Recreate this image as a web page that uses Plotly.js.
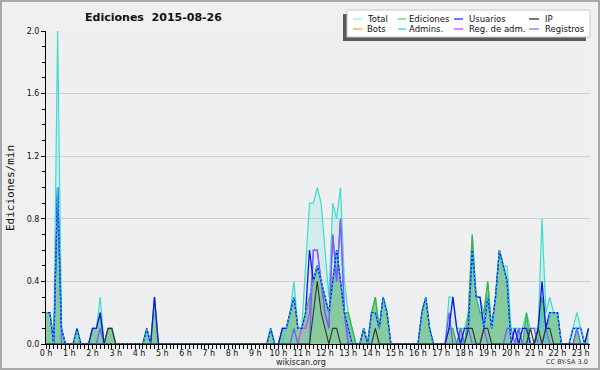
<!DOCTYPE html>
<html>
<head>
<meta charset="utf-8">
<script src="https://cdn.plot.ly/plotly-3.0.1.min.js"></script>
<style>
html,body{margin:0;padding:0;background:#f0f0f0;}
#chart{width:600px;height:370px;}
</style>
</head>
<body>
<div id="chart"></div>
<script>
// 10-minute buckets from 00:00 to 23:20 (edits per minute)
const STEP_MIN = 10;
const hourLabels = ['0 h','1 h','2 h','3 h','4 h','5 h','6 h','7 h','8 h','9 h','10 h','11 h',
  '12 h','13 h','14 h','15 h','16 h','17 h','18 h','19 h','20 h','21 h','22 h','23 h'];

const total = [
  0.2,0.2,0,2.0,0.1,0,
  0,0,0.1,0,0,0,
  0.1,0.1,0.3,0,0.1,0.1,
  0,0,0,0,0,0,
  0,0,0.1,0,0.3,0,
  0,0,0,0,0,0,
  0,0,0,0,0,0,
  0,0,0,0,0,0,
  0,0,0,0,0,0,
  0,0,0,0,0.1,0,
  0,0.1,0.1,0.2,0.4,0.1,
  0.1,0.5,0.9,0.9,1.0,0.9,
  0.6,0.3,0.9,0.8,1.0,0.4,
  0.2,0.1,0,0,0.1,0,
  0.2,0.3,0.1,0.3,0.2,0,
  0,0,0,0,0,0,
  0,0.2,0.3,0.1,0,0,
  0,0,0.3,0.3,0.1,0.1,
  0.1,0.2,0.7,0.3,0.3,0.2,
  0.4,0.1,0.3,0.6,0.5,0.5,
  0.1,0.1,0.1,0.1,0.2,0.1,
  0.1,0.1,0.8,0.2,0.3,0.2,
  0.2,0,0,0,0.1,0.2,
  0.1,0,0.1
];
const ediciones = [
  0.2,0.2,0,1.0,0.1,0,
  0,0,0.1,0,0,0,
  0.1,0.1,0.2,0,0.1,0.1,
  0,0,0,0,0,0,
  0,0,0.1,0,0.3,0,
  0,0,0,0,0,0,
  0,0,0,0,0,0,
  0,0,0,0,0,0,
  0,0,0,0,0,0,
  0,0,0,0,0.1,0,
  0,0.1,0.1,0.2,0.3,0.1,
  0.1,0.2,0.3,0.4,0.5,0.4,
  0.3,0.2,0.4,0.6,0.4,0.2,
  0.2,0.1,0,0,0.1,0,
  0.2,0.3,0.1,0.3,0.2,0,
  0,0,0,0,0,0,
  0,0.2,0.3,0.1,0,0,
  0,0,0.1,0.1,0,0.1,
  0,0.2,0.7,0.3,0.2,0.2,
  0.4,0.1,0.3,0.6,0.5,0.4,
  0,0,0.1,0,0.2,0,
  0,0.1,0.3,0.1,0.2,0.2,
  0.2,0,0,0,0,0.1,
  0,0,0.1
];
const usuarios = [
  0.2,0.2,0,1.0,0.1,0,
  0,0,0.1,0,0,0,
  0.1,0.1,0.2,0,0,0,
  0,0,0,0,0,0,
  0,0,0.1,0,0.3,0,
  0,0,0,0,0,0,
  0,0,0,0,0,0,
  0,0,0,0,0,0,
  0,0,0,0,0,0,
  0,0,0,0,0.1,0,
  0,0.1,0.1,0.2,0.3,0.1,
  0.1,0.2,0.6,0.4,0.5,0.4,
  0.3,0.2,0.4,0.6,0.4,0.2,
  0.1,0,0,0,0.1,0,
  0.2,0.2,0.1,0.3,0.2,0,
  0,0,0,0,0,0,
  0,0.2,0.3,0.1,0,0,
  0,0,0.1,0.3,0.1,0,
  0.1,0.1,0.6,0.3,0.3,0.1,
  0.3,0.1,0.3,0.6,0.5,0.4,
  0,0.1,0,0.1,0.1,0,
  0,0.1,0.4,0.1,0.2,0.2,
  0.2,0,0,0,0.1,0.1,
  0.1,0,0.1
];
const ip = [
  0,0,0,0,0,0,
  0,0,0,0,0,0,
  0,0,0,0,0.1,0.1,
  0,0,0,0,0,0,
  0,0,0,0,0,0,
  0,0,0,0,0,0,
  0,0,0,0,0,0,
  0,0,0,0,0,0,
  0,0,0,0,0,0,
  0,0,0,0,0,0,
  0,0,0,0,0,0,
  0,0,0,0.2,0.4,0.2,
  0.1,0,0.1,0.1,0,0,
  0,0,0,0,0,0,
  0,0.1,0,0,0,0,
  0,0,0,0,0,0,
  0,0,0,0,0,0,
  0,0,0,0,0,0,
  0,0.1,0.1,0,0,0.1,
  0.1,0,0,0,0,0,
  0,0,0,0,0,0.1,
  0,0.1,0,0.1,0.1,0,
  0,0,0,0,0,0,
  0,0,0
];
const bots = [
  0,0,0,0,0,0, 0,0,0,0,0,0, 0,0,0,0,0,0, 0,0,0,0,0,0,
  0,0,0,0,0,0, 0,0,0,0,0,0, 0,0,0,0,0,0, 0,0,0,0,0,0,
  0,0,0,0,0,0, 0,0,0,0,0,0, 0,0,0,0,0,0, 0,0,0,0,0,0,
  0,0,0,0,0,0, 0,0,0,0,0,0, 0,0,0,0,0,0, 0,0,0,0,0,0,
  0,0,0,0,0,0, 0,0,0,0,0,0, 0,0,0,0,0,0, 0,0,0,0,0,0,
  0,0,0,0,0,0, 0,0,0,0,0,0, 0,0,0,0,0,0, 0,0,0
];
const admins = [
  0.2,0.2,0,1.0,0.1,0,
  0,0,0.1,0,0,0,
  0,0,0,0,0,0,
  0,0,0,0,0,0,
  0,0,0.1,0,0,0,
  0,0,0,0,0,0,
  0,0,0,0,0,0,
  0,0,0,0,0,0,
  0,0,0,0,0,0,
  0,0,0,0,0.1,0,
  0,0,0.1,0.2,0.3,0.1,
  0.1,0.2,0.3,0.4,0.5,0.4,
  0.3,0.2,0.4,0.6,0.4,0.2,
  0.1,0,0,0,0.1,0,
  0.2,0.2,0.1,0.3,0.2,0,
  0,0,0,0,0,0,
  0,0.2,0.3,0.1,0,0,
  0,0,0,0,0,0,
  0,0.1,0.6,0.3,0.2,0.1,
  0.3,0.1,0.3,0.6,0.5,0.4,
  0,0,0,0,0,0,
  0,0,0.2,0,0.2,0.2,
  0.2,0,0,0,0.1,0.1,
  0.1,0,0
];
const regAdm = [
  0,0,0,0,0,0,
  0,0,0,0,0,0,
  0,0,0,0,0,0,
  0,0,0,0,0,0,
  0,0,0,0,0,0,
  0,0,0,0,0,0,
  0,0,0,0,0,0,
  0,0,0,0,0,0,
  0,0,0,0,0,0,
  0,0,0,0,0,0,
  0,0,0,0,0,0,
  0.1,0.1,0.2,0.6,0.6,0.4,
  0.2,0.1,0.7,0.4,0.8,0.2,
  0,0,0,0,0,0,
  0,0,0,0,0,0,
  0,0,0,0,0,0,
  0,0,0,0,0,0,
  0,0,0,0,0,0,
  0,0,0,0,0,0,
  0,0,0,0,0,0,
  0,0,0,0,0,0,
  0,0,0,0,0,0,
  0,0,0,0,0,0,
  0,0,0
];
const registros = [
  0,0,0,1.0,0,0,
  0,0,0,0,0,0,
  0,0,0.1,0,0,0,
  0,0,0,0,0,0,
  0,0,0,0,0,0,
  0,0,0,0,0,0,
  0,0,0,0,0,0,
  0,0,0,0,0,0,
  0,0,0,0,0,0,
  0,0,0,0,0,0,
  0,0,0,0,0.1,0,
  0,0,0,0.6,0.6,0.4,
  0.2,0.1,0.7,0.4,0.8,0.2,
  0,0,0,0,0,0,
  0,0,0,0,0,0,
  0,0,0,0,0,0,
  0,0,0,0,0,0,
  0,0,0.2,0,0,0.1,
  0,0.1,0,0,0,0.1,
  0,0,0,0,0,0.1,
  0.1,0,0.1,0,0,0.1,
  0.1,0,0,0.1,0,0,
  0,0,0,0,0,0.1,
  0,0,0
];

const minutes = total.map((_, i) => i * STEP_MIN);
const hourTicks = hourLabels.map((_, h) => h * 60);

// plot area in pixels
const L = 46, R = 590, T = 31, B = 344;
const px = x => (x - L) / (R - L);
const py = y => (B - y) / (B - T);

function line(name, y, color, width, extra) {
  return Object.assign({
    type: 'scatter', mode: 'lines', name: name, x: minutes, y: y,
    line: {color: color, width: width, shape: 'linear'},
    hoverinfo: 'skip', showlegend: false
  }, extra || {});
}

const traces = [
  line('Total', total, '#3fdccc', 1.2, {fill: 'tozeroy', fillcolor: 'rgba(64,224,208,0.16)'}),
  line('Ediciones', ediciones, '#3cb43c', 1.2, {fill: 'tozeroy', fillcolor: 'rgba(60,168,80,0.50)'}),
  line('Bots', bots, '#ffa500', 1),
  line('Reg. de adm.', regAdm, '#ee33ee', 1.2),
  line('Registros', registros, '#6a62ff', 1.3),
  line('Usuarios', usuarios, '#1414ee', 1.3),
  line('Admins.', admins, '#22ccee', 1.5, {line: {color: '#22c8f0', width: 1.5, dash: '2px,2px'}}),
  line('IP', ip, '#333333', 1.1)
];

// legend (drawn as shapes + text)
const legendItems = [
  {t: 'Total', c: '#9ff0ea', col: 0, row: 0},
  {t: 'Ediciones', c: '#66cc66', col: 1, row: 0},
  {t: 'Usuarios', c: '#2a2aff', col: 2, row: 0},
  {t: 'IP', c: '#333333', col: 3, row: 0},
  {t: 'Bots', c: '#ffa520', col: 0, row: 1},
  {t: 'Admins.', c: '#30d4f0', col: 1, row: 1},
  {t: 'Reg. de adm.', c: '#ee33ee', col: 2, row: 1},
  {t: 'Registros', c: '#7a7aff', col: 3, row: 1}
];
const colLine = [[353, 362], [398, 406], [454, 463], [529, 539]];
const colText = [366, 408, 468, 544];
const rowY = [19, 29];

const shapes = [
  // outer frame
  {type: 'rect', xref: 'paper', yref: 'paper', x0: px(1), x1: px(599), y0: py(1), y1: py(369),
   line: {color: '#a8a8a8', width: 2}, fillcolor: 'rgba(0,0,0,0)', layer: 'above'},
  // legend shadow + box
  {type: 'rect', xref: 'paper', yref: 'paper', x0: px(343), x1: px(586), y0: py(14), y1: py(41),
   line: {width: 0}, fillcolor: '#5a5a5a', layer: 'above'},
  {type: 'rect', xref: 'paper', yref: 'paper', x0: px(347), x1: px(590), y0: py(10), y1: py(37),
   line: {color: '#c8c8c8', width: 1}, fillcolor: '#ffffff', layer: 'above'}
];
const annotations = [
  {text: 'Ediciones/min', xref: 'paper', yref: 'paper', x: px(10), y: py(188), textangle: -90,
   showarrow: false, xanchor: 'center', yanchor: 'middle', borderpad: 0,
   font: {family: 'DejaVu Sans Mono', size: 11, color: '#111'}},
  {text: 'wikiscan.org', xref: 'paper', yref: 'paper', x: px(301), y: py(362), showarrow: false,
   xanchor: 'center', yanchor: 'middle', borderpad: 0, font: {family: 'DejaVu Sans', size: 8, color: '#222'}},
  {text: 'CC BY-SA 3.0', xref: 'paper', yref: 'paper', x: px(589), y: py(362), showarrow: false,
   xanchor: 'right', yanchor: 'middle', borderpad: 0, font: {family: 'DejaVu Sans', size: 6.5, color: '#333'}}
];
legendItems.forEach(it => {
  const y = rowY[it.row];
  shapes.push({type: 'line', xref: 'paper', yref: 'paper', x0: px(colLine[it.col][0]), x1: px(colLine[it.col][1]),
    y0: py(y), y1: py(y), line: {color: it.c, width: 1.3}, layer: 'above'});
  annotations.push({text: it.t, xref: 'paper', yref: 'paper', x: px(colText[it.col]), y: py(y),
    showarrow: false, xanchor: 'left', yanchor: 'middle', borderpad: 0,
    font: {family: 'DejaVu Sans', size: 8.5, color: '#111'}});
});

const layout = {
  width: 600, height: 370,
  margin: {l: L, r: 600 - R, t: T, b: 370 - B, pad: 0},
  paper_bgcolor: '#f0f0f0',
  plot_bgcolor: '#eeeff1',
  showlegend: false,
  title: {text: 'Ediciones\u00a0 2015-08-26', xref: 'container', yref: 'container',
    x: 153.5 / 600, xanchor: 'center', y: 1 - 17 / 370, yanchor: 'middle',
    font: {family: 'DejaVu Sans', size: 11, weight: 'bold', color: '#111'}},
  xaxis: {
    range: [0, (R - L) / 3.875 * STEP_MIN],
    tickmode: 'array', tickvals: hourTicks, ticktext: hourLabels,
    ticks: 'outside', ticklen: 4, tickwidth: 1, tickcolor: '#000',
    ticklabelstandoff: -3,
    showline: true, linecolor: '#000', linewidth: 1,
    showgrid: false, zeroline: false,
    tickfont: {family: 'DejaVu Sans', size: 8, color: '#111'},
    minor: {tickmode: 'linear', tick0: 0, dtick: STEP_MIN, ticks: 'outside', ticklen: 4, tickcolor: '#000', showgrid: false},
    fixedrange: true
  },
  yaxis: {
    range: [0, 2], tickmode: 'linear', tick0: 0, dtick: 0.4, tickformat: '.1f',
    ticks: 'outside', ticklen: 4, tickwidth: 1, tickcolor: '#000',
    showline: true, linecolor: '#000', linewidth: 1,
    showgrid: true, gridcolor: '#cfcfcf', gridwidth: 1, zeroline: false,
    tickfont: {family: 'DejaVu Sans', size: 8, color: '#111'},
    minor: {tickmode: 'linear', tick0: 0, dtick: 0.1, ticks: 'outside', ticklen: 3, tickcolor: '#000', showgrid: false},
    fixedrange: true
  },
  shapes: shapes,
  annotations: annotations
};

Plotly.newPlot('chart', traces, layout, {staticPlot: true, displayModeBar: false});
</script>
</body>
</html>
